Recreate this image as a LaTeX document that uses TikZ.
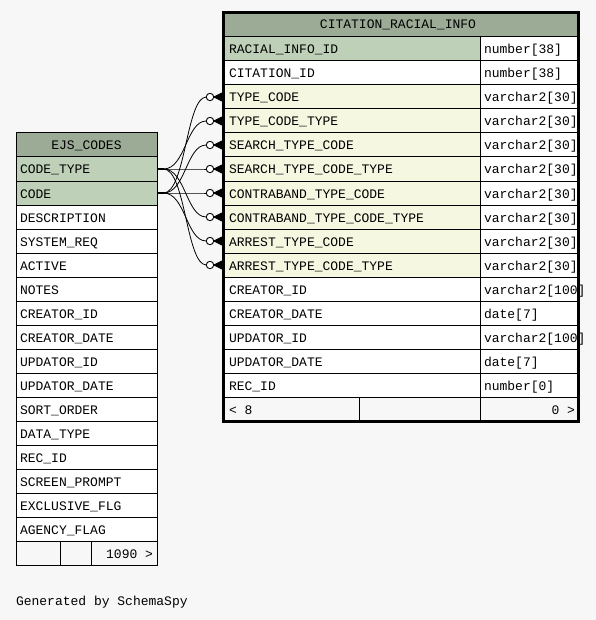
\documentclass[tikz,border=0pt]{standalone}
\usepackage{fontspec}
\setmonofont{Liberation Mono}
\definecolor{bg}{HTML}{F7F7F7}
\definecolor{hdr}{HTML}{9BAB96}
\definecolor{pk}{HTML}{BED1B8}
\definecolor{fk}{HTML}{F5F7E1}
\begin{document}
\begin{tikzpicture}[x=1bp,y=-1bp,
  every node/.style={inner sep=0pt,outer sep=0pt},
  txt/.style={font=\ttfamily\fontsize{13bp}{15bp}\selectfont,anchor=base west},
  cell/.style={draw=black,line width=1bp,anchor=north west,minimum height=24bp},
  conn/.style={draw=black,line width=0.8bp},
  tail/.style={draw=black,line width=2bp},
  odot/.style={draw=black,line width=0.9bp,fill=white},
  crow/.style={draw=black,fill=black,line width=1bp,line join=round}]
\useasboundingbox[fill=bg] (0,0) rectangle (596,620);

% ---------- EJS_CODES ----------
\node[cell,fill=hdr,minimum width=141bp] (lt) at (16.5,133) {};
\node[txt,anchor=base] (ltt) at (86.5,150) {EJS\_CODES};
\foreach \n/\c [count=\i from 0] in {CODE\_TYPE/pk,CODE/pk,DESCRIPTION/white,SYSTEM\_REQ/white,ACTIVE/white,NOTES/white,CREATOR\_ID/white,CREATOR\_DATE/white,UPDATOR\_ID/white,UPDATOR\_DATE/white,SORT\_ORDER/white,DATA\_TYPE/white,REC\_ID/white,SCREEN\_PROMPT/white,EXCLUSIVE\_FLG/white,AGENCY\_FLAG/white}{
  \node[cell,fill=\c,minimum width=141bp] (ln\i) at (16.5,157+24*\i) {};
  \node[txt] (lnt\i) at (20,174+24*\i) {\n};
}
\node[cell,fill=bg,minimum width=44bp] (lf1) at (16.5,541) {};
\node[cell,fill=bg,minimum width=31bp] (lf2) at (60.5,541) {};
\node[cell,fill=bg,minimum width=66bp] (lf3) at (91.5,541) {};
\node[txt,anchor=base east] (lft) at (153,558) {1090 >};

% ---------- CITATION_RACIAL_INFO ----------
\node[cell,fill=hdr,minimum width=355bp] (rt) at (223.5,13) {};
\node[txt,anchor=base] (rtt) at (398,29) {CITATION\_RACIAL\_INFO};
\foreach \n/\t/\c [count=\i from 0] in {RACIAL\_INFO\_ID/number[38]/pk,CITATION\_ID/number[38]/white,TYPE\_CODE/varchar2[30]/fk,TYPE\_CODE\_TYPE/varchar2[30]/fk,SEARCH\_TYPE\_CODE/varchar2[30]/fk,SEARCH\_TYPE\_CODE\_TYPE/varchar2[30]/fk,CONTRABAND\_TYPE\_CODE/varchar2[30]/fk,CONTRABAND\_TYPE\_CODE\_TYPE/varchar2[30]/fk,ARREST\_TYPE\_CODE/varchar2[30]/fk,ARREST\_TYPE\_CODE\_TYPE/varchar2[30]/fk,CREATOR\_ID/varchar2[100]/white,CREATOR\_DATE/date[7]/white,UPDATOR\_ID/varchar2[100]/white,UPDATOR\_DATE/date[7]/white,REC\_ID/number[0]/white}{
  \node[cell,fill=\c,minimum width=256.5bp] (rn\i) at (223.5,37+24*\i) {};
  \node[cell,fill=white,minimum width=98.5bp] (rc\i) at (480,37+24*\i) {};
  \node[txt] (rnt\i) at (229,54+24*\i) {\n};
  \node[txt] (rct\i) at (484,54+24*\i) {\t};
}
\node[cell,fill=bg,minimum width=136bp] (rf1) at (223.5,397) {};
\node[cell,fill=bg,minimum width=120.5bp] (rf2) at (359.5,397) {};
\node[cell,fill=bg,minimum width=98.5bp] (rf3) at (480,397) {};
\node[txt] (rft1) at (229,414) {< 8};
\node[txt,anchor=base east] (rft2) at (575,414) {0 >};
\draw[line width=3bp] (rt.north west) rectangle (rf3.south east);

% ---------- connectors ----------
\foreach \i/\j in {2/1,3/0,4/1,5/0,6/1,7/0,8/1,9/0}{
  \draw[conn] (ln\j.east) -- ++(6,0) .. controls +(22,0) and +(-20,0) .. ([xshift=-17.2bp]rn\i.west);
  \draw[crow] ([xshift=-9.5bp]rn\i.west) -- ([xshift=-1.5bp,yshift=-4bp]rn\i.west)
              -- ([xshift=-1.5bp,yshift=4bp]rn\i.west) -- cycle;
  \draw[odot] ([xshift=-13.5bp]rn\i.west) circle (3.7bp);
}
\draw[tail] (ln0.east) -- ++(6,0);
\draw[tail] (ln1.east) -- ++(6,0);

\node[txt] (gen) at (16,605) {Generated by SchemaSpy};
\end{tikzpicture}
\end{document}
